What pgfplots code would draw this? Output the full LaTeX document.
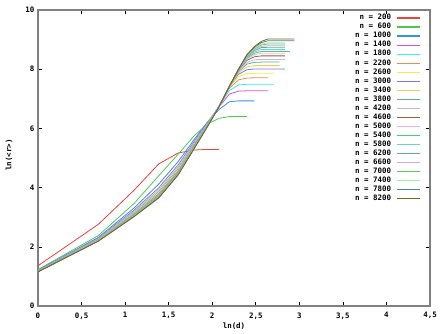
\documentclass[border=0pt]{standalone}
\usepackage{fontspec}
\newfontfamily\gp{DejaVu Sans Mono}
\usepackage{pgfplots}
\usepackage{pgfplotstable}
\pgfplotsset{compat=1.18}

% gnuplot-like palette
\definecolor{c200}{HTML}{F04040}
\definecolor{c600}{HTML}{50C850}
\definecolor{c1000}{HTML}{3A8EF0}
\definecolor{c1400}{HTML}{D050F0}
\definecolor{c1800}{HTML}{40EEEE}
\definecolor{c2200}{HTML}{E09060}
\definecolor{c2600}{HTML}{EEEE50}
\definecolor{c3000}{HTML}{7878E0}
\definecolor{c3400}{HTML}{F5C860}
\definecolor{c3800}{HTML}{60B090}
\definecolor{c4200}{HTML}{B8B8F8}
\definecolor{c4600}{HTML}{A06030}
\definecolor{c5000}{HTML}{F8B0F0}
\definecolor{c5400}{HTML}{40D080}
\definecolor{c5800}{HTML}{70D0D0}
\definecolor{c6200}{HTML}{60A8B0}
\definecolor{c6600}{HTML}{E0A8C0}
\definecolor{c7000}{HTML}{60C860}
\definecolor{c7400}{HTML}{A0F0B0}
\definecolor{c7800}{HTML}{5080A0}
\definecolor{c8200}{HTML}{806020}

% ln(d) for d = 1..19, then ln(<r>) for each n
\pgfplotstableread{
lnd    a200 a600 a1000 a1400 a1800 a2200 a2600 a3000 a3400 a3800 a4200 a4600 a5000 a5400 a5800 a6200 a6600 a7000 a7400 a7800 a8200
0      1.36 1.23 1.21  1.20  1.19  1.18  1.18  1.18  1.18  1.17  1.17  1.17  1.17  1.17  1.17  1.17  1.17  1.17  1.16  1.16  1.15
0.6931 2.76 2.38 2.32  2.29  2.27  2.26  2.25  2.24  2.24  2.23  2.23  2.23  2.23  2.22  2.22  2.22  2.22  2.21  2.21  2.20  2.19
1.0986 3.90 3.45 3.30  3.23  3.19  3.15  3.13  3.11  3.10  3.09  3.08  3.07  3.07  3.06  3.06  3.06  3.05  3.04  3.03  3.02  3.01
1.3863 4.80 4.40 4.12  3.99  3.92  3.86  3.82  3.79  3.77  3.75  3.74  3.73  3.72  3.71  3.70  3.70  3.69  3.68  3.67  3.66  3.65
1.6094 5.17 5.13 4.88  4.77  4.70  4.64  4.60  4.57  4.55  4.53  4.52  4.51  4.50  4.49  4.48  4.48  4.47  4.46  4.45  4.44  4.43
1.7918 5.27 5.75 5.62  5.55  5.50  5.47  5.44  5.42  5.41  5.40  5.39  5.38  5.37  5.37  5.36  5.36  5.35  5.34  5.33  5.32  5.31
1.9459 5.29 6.15 6.22  6.20  6.17  6.15  6.14  6.13  6.12  6.12  6.12  6.11  6.11  6.11  6.10  6.10  6.10  6.09  6.08  6.07  6.06
2.0794 5.29 6.34 6.64  6.73  6.75  6.75  6.75  6.75  6.75  6.75  6.75  6.75  6.75  6.75  6.75  6.75  6.75  6.75  6.74  6.74  6.73
2.1972 nan  6.40 6.90  7.16  7.28  7.36  7.40  7.42  7.42  7.42  7.42  7.42  7.42  7.42  7.42  7.42  7.42  7.42  7.42  7.42  7.42
2.3026 nan  6.40 6.93  7.26  7.47  7.64  7.75  7.83  7.88  7.92  7.95  7.98  7.99  8.00  8.00  8.00  8.00  8.00  8.00  8.00  8.00
2.3979 nan  6.40 6.93  7.27  7.49  7.70  7.85  7.98  8.08  8.17  8.23  8.30  8.34  8.37  8.40  8.42  8.44  8.46  8.47  8.48  8.49
2.4849 nan  nan  6.93  7.27  7.49  7.71  7.86  8.01  8.12  8.23  8.32  8.42  8.49  8.54  8.58  8.63  8.66  8.69  8.71  8.74  8.77
2.5649 nan  nan  nan   7.27  7.49  7.71  7.86  8.01  8.12  8.24  8.33  8.45  8.54  8.60  8.67  8.73  8.77  8.82  8.85  8.90  8.94
2.6391 nan  nan  nan   7.27  7.49  7.71  7.86  8.01  8.12  8.24  8.33  8.45  8.54  8.60  8.67  8.74  8.79  8.85  8.89  8.96  9.02
2.7081 nan  nan  nan   nan   7.49  nan   7.86  8.01  8.12  8.24  8.33  8.45  8.54  8.60  8.67  8.74  8.79  8.85  8.89  8.96  9.02
2.7726 nan  nan  nan   nan   nan   nan   nan   8.01  8.12  8.24  8.33  8.45  8.54  8.60  8.67  8.74  8.79  8.85  8.89  8.96  9.02
2.8332 nan  nan  nan   nan   nan   nan   nan   8.01  nan   nan   8.33  8.45  8.54  8.60  8.67  8.74  8.79  8.85  8.89  8.96  9.02
2.8904 nan  nan  nan   nan   nan   nan   nan   nan   nan   nan   nan   nan   nan   8.60  nan   nan   nan   nan   nan   8.96  9.02
2.9444 nan  nan  nan   nan   nan   nan   nan   nan   nan   nan   nan   nan   nan   nan   nan   nan   nan   nan   nan   8.96  9.02
}\rdata

\begin{document}
\begin{tikzpicture}
\path[use as bounding box] (-38bp,-28bp) rectangle (407bp,306bp);
\begin{axis}[
  scale only axis,
  width=392bp, height=296bp,
  at={(0,0)}, anchor=south west,
  xmin=0, xmax=4.5, ymin=0, ymax=10,
  xtick={0,0.5,1,1.5,2,2.5,3,3.5,4,4.5},
  ytick={0,2,4,6,8,10},
  /pgf/number format/use comma,
  /pgf/number format/assume math mode=true,
  tick align=inside,
  major tick length=4bp,
  tick style={black, line width=0.6pt},
  axis line style={draw=black!50, line width=1.2pt},
  ticklabel style={font=\gp\bfseries\fontsize{7.5}{9}\selectfont},
  xticklabel style={yshift=-3bp},
  label style={font=\gp\bfseries\fontsize{7.5}{9}\selectfont},
  xlabel={ln(d)},
  ylabel={ln(<r>)},
  xlabel style={at={(axis description cs:0.5,-0.068)}, anchor=center},
  ylabel style={at={(axis description cs:-0.074,0.51)}, anchor=center},
  legend plot pos=right,
  legend cell align=right,
  legend image code/.code={\draw[#1, line width=1.6pt] (0bp,0bp) -- (23bp,0bp);},
  legend style={draw=none, fill=none, at={(rel axis cs:0.977,0.988)}, anchor=north east,
    font=\gp\bfseries\fontsize{7.5}{9}\selectfont, inner sep=0pt, row sep=0pt, column sep=5bp,
    nodes={inner sep=0pt, text height=6.2pt, text depth=2.85pt}},
  every axis plot/.append style={line width=0.8pt, mark=none},
]
\addplot[c200]  table[x=lnd, y=a200]  {\rdata}; \addlegendentry{n = 200}
\addplot[c600]  table[x=lnd, y=a600]  {\rdata}; \addlegendentry{n = 600}
\addplot[c1000] table[x=lnd, y=a1000] {\rdata}; \addlegendentry{n = 1000}
\addplot[c1400] table[x=lnd, y=a1400] {\rdata}; \addlegendentry{n = 1400}
\addplot[c1800] table[x=lnd, y=a1800] {\rdata}; \addlegendentry{n = 1800}
\addplot[c2200] table[x=lnd, y=a2200] {\rdata}; \addlegendentry{n = 2200}
\addplot[c2600] table[x=lnd, y=a2600] {\rdata}; \addlegendentry{n = 2600}
\addplot[c3000] table[x=lnd, y=a3000] {\rdata}; \addlegendentry{n = 3000}
\addplot[c3400] table[x=lnd, y=a3400] {\rdata}; \addlegendentry{n = 3400}
\addplot[c3800] table[x=lnd, y=a3800] {\rdata}; \addlegendentry{n = 3800}
\addplot[c4200] table[x=lnd, y=a4200] {\rdata}; \addlegendentry{n = 4200}
\addplot[c4600] table[x=lnd, y=a4600] {\rdata}; \addlegendentry{n = 4600}
\addplot[c5000] table[x=lnd, y=a5000] {\rdata}; \addlegendentry{n = 5000}
\addplot[c5400] table[x=lnd, y=a5400] {\rdata}; \addlegendentry{n = 5400}
\addplot[c5800] table[x=lnd, y=a5800] {\rdata}; \addlegendentry{n = 5800}
\addplot[c6200] table[x=lnd, y=a6200] {\rdata}; \addlegendentry{n = 6200}
\addplot[c6600] table[x=lnd, y=a6600] {\rdata}; \addlegendentry{n = 6600}
\addplot[c7000] table[x=lnd, y=a7000] {\rdata}; \addlegendentry{n = 7000}
\addplot[c7400] table[x=lnd, y=a7400] {\rdata}; \addlegendentry{n = 7400}
\addplot[c7800] table[x=lnd, y=a7800] {\rdata}; \addlegendentry{n = 7800}
\addplot[c8200] table[x=lnd, y=a8200] {\rdata}; \addlegendentry{n = 8200}
\end{axis}
\end{tikzpicture}
\end{document}
